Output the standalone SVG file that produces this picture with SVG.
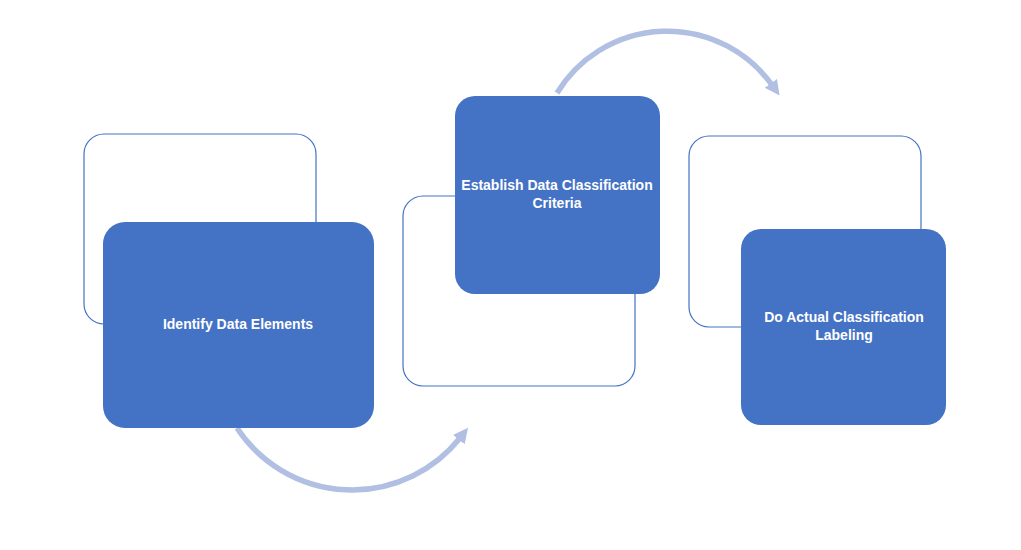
<svg xmlns="http://www.w3.org/2000/svg" width="1021" height="550" viewBox="0 0 1021 550">
<style>
.outline{fill:#ffffff;stroke:#4472C4;stroke-width:1.2}
.fill{fill:#4472C4;stroke:none}
.lbl{font-family:"Liberation Sans",Arial,sans-serif;font-weight:bold;font-size:14px;fill:#ffffff;text-anchor:middle}
.arc{fill:none;stroke:#B0BFE2;stroke-width:5.5}
</style>
<defs>
<marker id="ah" markerUnits="userSpaceOnUse" markerWidth="18" markerHeight="18" refX="2" refY="9" orient="auto">
<path d="M0,1.5 L15,9 L0,16.5 Z" fill="#B0BFE2"/>
</marker>
</defs>
<rect width="1021" height="550" fill="#ffffff"/>
<g id="connectors">
<path class="arc" d="M 237 428 A 138 138 0 0 0 460 438" marker-end="url(#ah)"/>
<path class="arc" d="M 557 93 A 129 129 0 0 1 772 85" marker-end="url(#ah)"/>
</g>
<g id="node1">
<rect class="outline" x="84" y="134" width="232" height="190" rx="20"/>
<rect class="fill" x="103" y="222" width="271" height="206" rx="22"/>
<text class="lbl" x="238" y="329">Identify Data Elements</text>
</g>
<g id="node2">
<rect class="outline" x="403" y="196" width="232" height="190" rx="20"/>
<rect class="fill" x="455" y="96" width="205" height="198" rx="20"/>
<text class="lbl" x="557" y="190">Establish Data Classification</text>
<text class="lbl" x="557" y="208">Criteria</text>
</g>
<g id="node3">
<rect class="outline" x="689" y="136" width="232" height="191" rx="20"/>
<rect class="fill" x="741" y="229" width="205" height="196" rx="20"/>
<text class="lbl" x="844" y="322">Do Actual Classification</text>
<text class="lbl" x="844" y="340">Labeling</text>
</g>
</svg>
